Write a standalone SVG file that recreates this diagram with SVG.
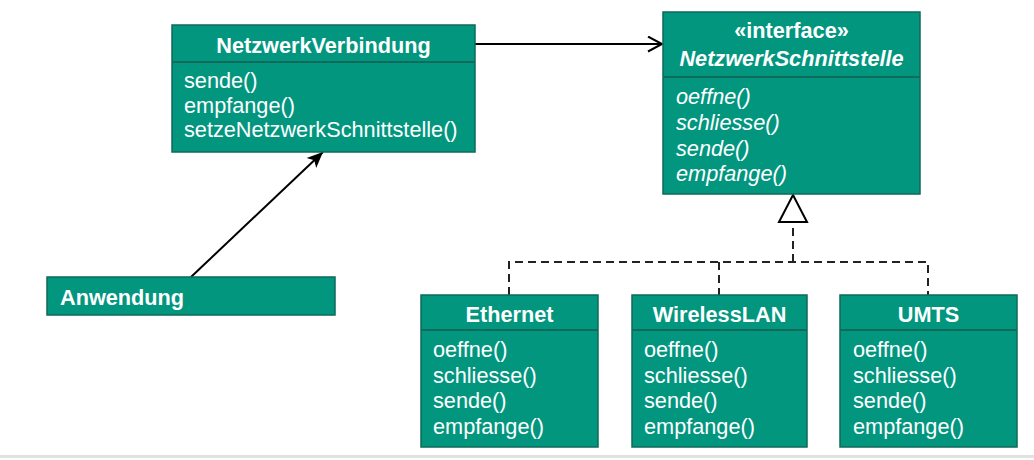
<svg xmlns="http://www.w3.org/2000/svg" width="1034" height="460" viewBox="0 0 1034 460">
<style>
.box{fill:#02967f;stroke:#0e6a5a;stroke-width:1.5}
.div{stroke:#0e6a5a;stroke-width:2}
text{font-family:"Liberation Sans",Arial,sans-serif;font-size:21.7px;fill:#fff}
.b{font-weight:bold}
.t{font-weight:bold;text-anchor:middle}
.i{font-style:italic}
.ln{stroke:#000;stroke-width:2;fill:none}
.dash{stroke:#222;stroke-width:2;fill:none;stroke-dasharray:8 5}
</style>
<defs>
<marker id="open" markerWidth="20" markerHeight="20" refX="15" refY="8" orient="auto" markerUnits="userSpaceOnUse">
<path d="M1,0.5 L15,8 L1,15.5" fill="none" stroke="#000" stroke-width="2"/>
</marker>
<marker id="fill" markerWidth="20" markerHeight="20" refX="16" refY="8" orient="auto" markerUnits="userSpaceOnUse">
<path d="M0,1 L16,8 L0,15 L4,8 Z" fill="#000"/>
</marker>
</defs>
<rect x="0" y="455" width="1034" height="3" fill="#e2e2e2"/>
<g id="connectors">
<line class="ln" x1="475" y1="44" x2="662" y2="44" marker-end="url(#open)"/>
<line class="ln" x1="191" y1="277" x2="323" y2="152" marker-end="url(#fill)"/>
<polyline class="dash" points="509,295 509,262 928,262 928,295"/>
<line class="dash" x1="719" y1="262" x2="719" y2="295"/>
<line class="dash" x1="793" y1="262" x2="793" y2="222"/>
<path d="M793,195 L779,222 L807,222 Z" fill="#fff" stroke="#000" stroke-width="2"/>
</g>
<g id="NetzwerkVerbindung">
<rect class="box" x="172" y="25" width="303" height="127"/>
<line class="div" x1="172" y1="62" x2="475" y2="62"/>
<text class="t" x="323.5" y="53">NetzwerkVerbindung</text>
<text x="184" y="88">sende()</text>
<text x="184" y="112.5">empfange()</text>
<text x="184" y="137">setzeNetzwerkSchnittstelle()</text>
</g>
<g id="NetzwerkSchnittstelle">
<rect class="box" x="663" y="12" width="257" height="182"/>
<line class="div" x1="663" y1="77" x2="920" y2="77"/>
<text class="t" x="791.5" y="38">«interface»</text>
<text class="t i" x="791.5" y="66">NetzwerkSchnittstelle</text>
<text class="i" x="676" y="104">oeffne()</text>
<text class="i" x="676" y="130">schliesse()</text>
<text class="i" x="676" y="155.5">sende()</text>
<text class="i" x="676" y="180.5">empfange()</text>
</g>
<g id="Anwendung">
<rect class="box" x="47" y="277" width="288" height="38"/>
<text class="b" x="60" y="305">Anwendung</text>
</g>
<g id="Ethernet">
<rect class="box" x="421" y="295" width="177" height="152"/>
<line class="div" x1="421" y1="330" x2="598" y2="330"/>
<text class="t" x="509.5" y="322">Ethernet</text>
<text x="433" y="357">oeffne()</text>
<text x="433" y="383">schliesse()</text>
<text x="433" y="408">sende()</text>
<text x="433" y="434">empfange()</text>
</g>
<g id="WirelessLAN">
<rect class="box" x="632" y="295" width="175" height="152"/>
<line class="div" x1="632" y1="330" x2="807" y2="330"/>
<text class="t" x="719.5" y="322">WirelessLAN</text>
<text x="644" y="357">oeffne()</text>
<text x="644" y="383">schliesse()</text>
<text x="644" y="408">sende()</text>
<text x="644" y="434">empfange()</text>
</g>
<g id="UMTS">
<rect class="box" x="840" y="295" width="177" height="152"/>
<line class="div" x1="840" y1="330" x2="1017" y2="330"/>
<text class="t" x="928.5" y="322">UMTS</text>
<text x="853" y="357">oeffne()</text>
<text x="853" y="383">schliesse()</text>
<text x="853" y="408">sende()</text>
<text x="853" y="434">empfange()</text>
</g>
</svg>
